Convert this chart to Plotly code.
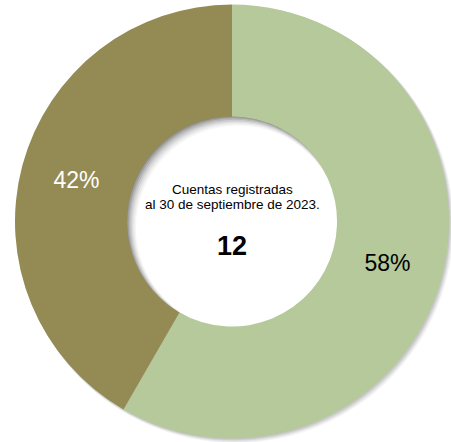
import plotly.graph_objects as go

categories = ["Categoría A", "Categoría B"]
values = [7, 5]
colors = ["#B5C99A", "#948A54"]
text_colors = ["#000000", "#FFFFFF"]
center_lines = ["Cuentas registradas", "al 30 de septiembre de 2023."]
total_label = str(sum(values))

W, H = 451, 442
cx, cy, R = 232, 221.5, 217
HOLE = 0.484
r_in = R * HOLE
FONT = "Liberation Sans, Arial, sans-serif"

fig = go.Figure()


def circ(x0, y0, r, color, opacity):
    return dict(type="circle", xref="paper", yref="paper", layer="below",
                x0=(x0 - r) / W, x1=(x0 + r) / W,
                y0=1 - (y0 + r) / H, y1=1 - (y0 - r) / H,
                fillcolor=color, opacity=opacity, line=dict(width=0))


shapes = []
# soft outer shadow (right / bottom)
for i, op in enumerate([0.08, 0.12, 0.16, 0.2]):
    shapes.append(circ(cx + 3.5 - i * 0.8, cy + 3.5 - i * 0.8, R + 1 - i * 0.3, "#808080", op))
# inner shadow in the hole (top-left)
shapes.append(circ(cx, cy, r_in + 1, "#8c8c8c", 1.0))
steps = [(1.5, "#a0a0a0"), (3.0, "#b8b8b8"), (4.5, "#cccccc"), (6.0, "#dddddd"),
         (7.5, "#ebebeb"), (9.0, "#f6f6f6"), (10.5, "#ffffff")]
for d, col in steps:
    shapes.append(circ(cx + d * 0.6, cy + d * 0.6, r_in + 1 - d * 0.35, col, 1.0))

fig.add_trace(go.Pie(
    labels=categories,
    values=values,
    hole=HOLE,
    sort=False,
    direction="clockwise",
    rotation=0,
    marker=dict(colors=colors, line=dict(width=0)),
    texttemplate="%{percent:.0%}",
    textposition="inside",
    insidetextorientation="horizontal",
    textfont=dict(family=FONT, size=23, color=text_colors),
    showlegend=False,
    hoverinfo="label+value+percent",
    domain=dict(x=[(cx - R) / W, (cx + R) / W], y=[(H - cy - R) / H, (H - cy + R) / H]),
))

for line, ypix in zip(center_lines, [189.5, 204.5]):
    fig.add_annotation(x=cx / W, y=1 - ypix / H, xref="paper", yref="paper",
                       text=line, showarrow=False,
                       font=dict(family=FONT, size=13.5, color="#000000"),
                       align="center")
fig.add_annotation(x=cx / W, y=1 - 246 / H, xref="paper", yref="paper",
                   text="<b>" + total_label + "</b>", showarrow=False,
                   font=dict(family=FONT, size=27, color="#000000"))

fig.update_layout(width=W, height=H, margin=dict(l=0, r=0, t=0, b=0),
                  paper_bgcolor="white", plot_bgcolor="white", shapes=shapes,
                  uniformtext=dict(minsize=23, mode="show"))
fig.write_html("out.html", config={"displayModeBar": False},
               post_script="document.body.style.margin='0px';")
